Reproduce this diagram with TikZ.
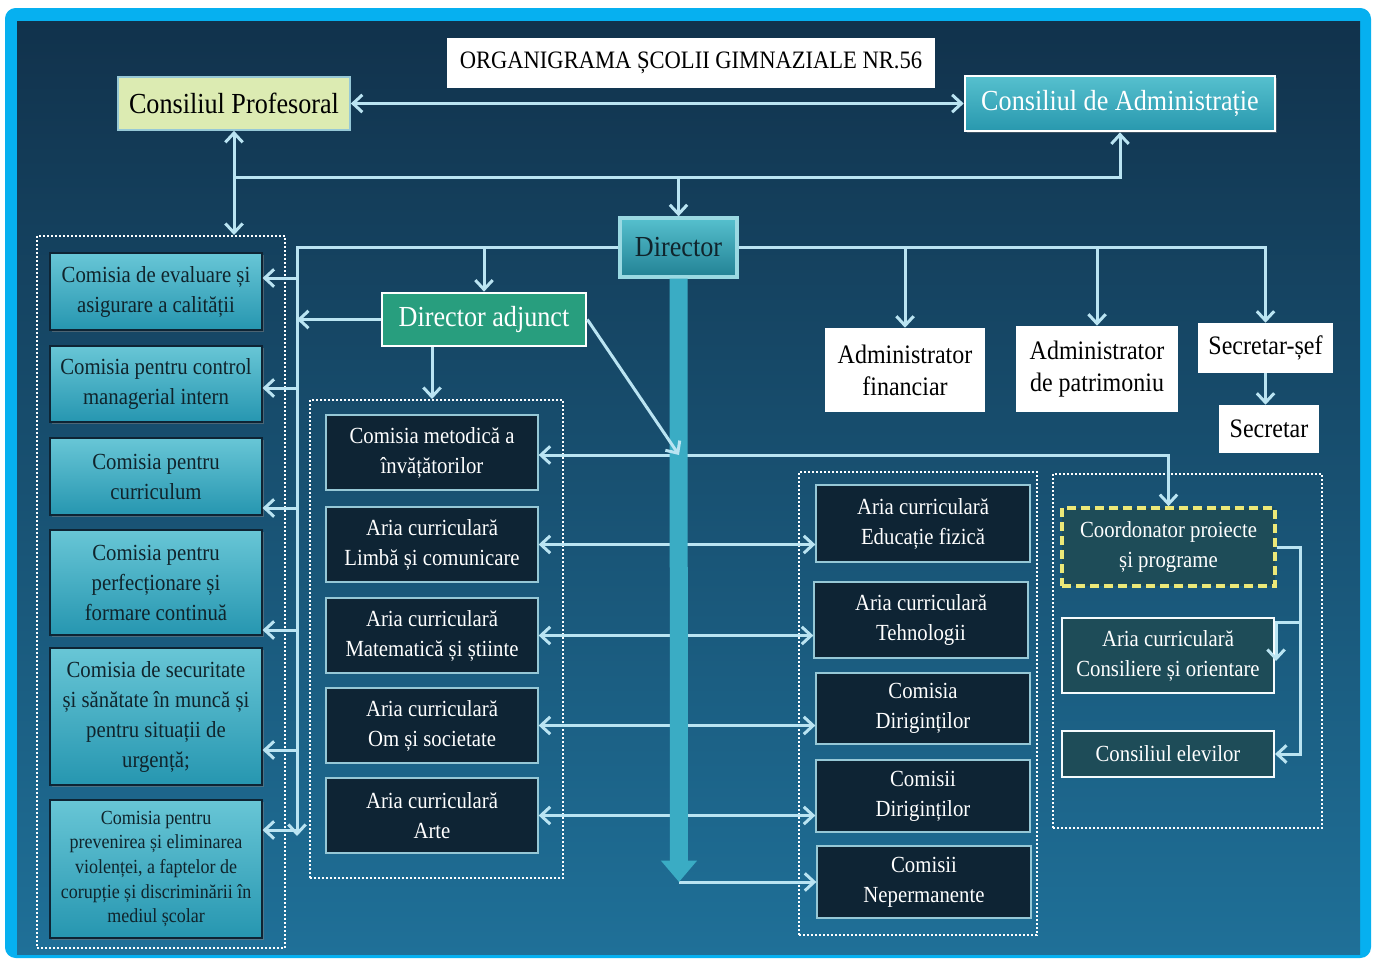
\documentclass[tikz,border=0pt]{standalone}
\usepackage{fontspec}
\setmainfont{Liberation Serif}[FakeStretch=0.9]
\usetikzlibrary{arrows.meta,shadows,calc}

\definecolor{bgtop}{RGB}{17,50,76}
\definecolor{bgbot}{RGB}{31,112,152}
\definecolor{rim}{RGB}{6,176,240}
\definecolor{lnk}{RGB}{186,228,242}
\definecolor{shaft}{RGB}{58,172,196}
\definecolor{comtop}{RGB}{104,198,214}
\definecolor{combot}{RGB}{38,150,176}
\definecolor{comtxt}{RGB}{16,36,44}
\definecolor{adjgreen}{RGB}{40,158,126}
\definecolor{profgreen}{RGB}{220,235,178}
\definecolor{admtop}{RGB}{86,192,206}
\definecolor{admbot}{RGB}{40,152,174}
\definecolor{ariadark}{RGB}{14,36,52}
\definecolor{ariaedge}{RGB}{150,200,214}
\definecolor{teamfill}{RGB}{30,76,88}
\definecolor{coordedge}{RGB}{236,232,120}

\newcommand{\bigtxt}{\fontsize{21.8}{26}\selectfont}
\newcommand{\midtxt}{\fontsize{17.3}{22.5}\selectfont}
\newcommand{\stafftxt}{\fontsize{20}{24}\selectfont}
\newcommand{\smalltxt}{\fontsize{15}{18.4}\selectfont}

\tikzset{
  boxsize/.style 2 args={minimum width=#1*0.75pt, minimum height=#2*0.75pt},
  base/.style={inner sep=0pt, align=center},
  titlebox/.style={base, fill=white, text=black, font=\fontsize{18.8}{23}\selectfont},
  profbox/.style={base, fill=profgreen, draw=ariaedge, line width=1.2pt, text=black, font=\bigtxt},
  admbox/.style={base, top color=admtop, bottom color=admbot, draw=white, line width=2pt,
    text=white, font=\bigtxt, drop shadow={shadow xshift=1.5pt, shadow yshift=-1.5pt, opacity=0.4}},
  dirbox/.style={base, top color=admtop, bottom color=admbot!85!black, draw=admtop!60!white,
    line width=2.5pt, text=comtxt, font=\bigtxt,
    drop shadow={shadow xshift=1.5pt, shadow yshift=-1.5pt, opacity=0.5}},
  adjbox/.style={base, fill=adjgreen, draw=white, line width=2pt, text=white, font=\bigtxt},
  combox/.style={base, top color=comtop, bottom color=combot, draw=ariadark, line width=0.8pt,
    text=comtxt, font=\midtxt, drop shadow={shadow xshift=1.5pt, shadow yshift=-1.5pt, opacity=0.5}},
  ariabox/.style={base, fill=ariadark, draw=ariaedge, line width=1pt, text=white, font=\midtxt},
  staffbox/.style={base, fill=white, text=black, font=\stafftxt},
  teambox/.style={base, fill=teamfill, draw=white!85!lnk, line width=1.5pt, text=white, font=\midtxt},
  grp/.style={base, draw=white, line width=1.5pt, dash pattern=on 1.5pt off 1.5pt},
  link/.style={draw=lnk, line width=2.25pt, >={Straight Barb[length=7pt,width=13pt]}},
}

\begin{document}
\begin{tikzpicture}[x=0.75pt,y=0.75pt,yscale=-1,xscale=1]
\useasboundingbox (0,0) rectangle (1373,960);

% background and frame
\fill[white] (0,0) rectangle (1373,960);
\fill[rim, rounded corners=8pt] (5,8) rectangle (1371,958);
\shade[top color=bgtop, bottom color=bgbot] (17,21) rectangle (1360,954);

% group frames
\node[grp, boxsize={248}{712}] (lframe) at (161,592) {};
\node[grp, boxsize={253}{478}] (mframe) at (436.5,639) {};
\node[grp, boxsize={238}{463}] (rframe) at (918,703.5) {};
\node[grp, boxsize={269}{354}] (rrframe) at (1187.5,651) {};

% top level
\node[titlebox, boxsize={488}{50}] (title) at (691,63) {ORGANIGRAMA ȘCOLII GIMNAZIALE NR.56};
\node[profbox, boxsize={232}{53}] (cp) at (234,103.5) {Consiliul Profesoral};
\node[admbox, boxsize={310}{55}] (ca) at (1120,103.5) {Consiliul de Administrație};
\node[dirbox, boxsize={117}{59}] (dir) at (678.5,247.5) {Director};
\node[adjbox, boxsize={204}{53}] (da) at (484,319.5) {Director adjunct};

% staff
\node[staffbox, boxsize={160}{84}] (af) at (905,370) {Administrator\\financiar};
\node[staffbox, boxsize={162}{86}] (ap) at (1097,369) {Administrator\\de patrimoniu};
\node[staffbox, boxsize={135}{50}] (ss) at (1265.5,348) {Secretar-șef};
\node[staffbox, boxsize={100}{48}] (sec) at (1269,429) {Secretar};

% commissions (left)
\node[combox, boxsize={212}{77}] (l1) at (156,291.5) {Comisia de evaluare și\\asigurare a calității};
\node[combox, boxsize={212}{76}] (l2) at (156,384) {Comisia pentru control\\managerial intern};
\node[combox, boxsize={212}{77}] (l3) at (156,476.5) {Comisia pentru\\curriculum};
\node[combox, boxsize={212}{105}] (l4) at (156,582.5) {Comisia pentru\\perfecționare și\\formare continuă};
\node[combox, boxsize={212}{137}] (l5) at (156,716.5) {Comisia de securitate\\și sănătate în muncă și\\pentru situații de\\urgență;};
\node[combox, boxsize={212}{138}, font=\smalltxt] (l6) at (156,869) {Comisia pentru\\prevenirea și eliminarea\\violenței, a faptelor de\\corupție și discriminării în\\mediul școlar};

% curricular areas (middle)
\node[ariabox, boxsize={212}{75}] (m1) at (432,452.5) {Comisia metodică a\\învățătorilor};
\node[ariabox, boxsize={212}{75}] (m2) at (432,544.5) {Aria curriculară\\Limbă și comunicare};
\node[ariabox, boxsize={212}{75}] (m3) at (432,635.5) {Aria curriculară\\Matematică și știinte};
\node[ariabox, boxsize={212}{75}] (m4) at (432,725.5) {Aria curriculară\\Om și societate};
\node[ariabox, boxsize={212}{75}] (m5) at (432,815.5) {Aria curriculară\\Arte};

% curricular areas (right)
\node[ariabox, boxsize={214}{77}] (r1) at (923,523.5) {Aria curriculară\\Educație fizică};
\node[ariabox, boxsize={214}{76}] (r2) at (921,620) {Aria curriculară\\Tehnologii};
\node[ariabox, boxsize={214}{71}] (r3) at (923,708.5) {Comisia\\Diriginților};
\node[ariabox, boxsize={214}{72}] (r4) at (923,796) {Comisii\\Diriginților};
\node[ariabox, boxsize={214}{72}] (r5) at (924,882) {Comisii\\Nepermanente};

% projects and pupils
\node[teambox, boxsize={213}{78}, draw=coordedge, line width=2.8pt, dash pattern=on 7pt off 3.5pt] (coord) at (1168.5,547) {Coordonator proiecte\\și programe};
\node[teambox, boxsize={212}{75}] (aco) at (1168,655.5) {Aria curriculară\\Consiliere și orientare};
\node[teambox, boxsize={212}{46}] (cel) at (1168,754) {Consiliul elevilor};

\coordinate (hub) at (679,455);
\coordinate (bigtip) at (679,882);
\coordinate (lbusend) at (297,836);

% top connectors
\draw[link,<->] (cp.east) -- (ca.west);
\draw[link,<->] (cp.south) -- (cp.south |- lframe.north);
\draw[link,->] (cp.south |- 0,177) -| (ca.south);
\draw[link,->] (dir.north |- 0,177) -- (dir.north);

% director bus
\draw[link,->] (dir.west) -| (lbusend);
\draw[link,->] (dir.east) -| (ss.north);
\draw[link,->] (dir.east -| af.north) -- (af.north);
\draw[link,->] (dir.east -| ap.north) -- (ap.north);
\draw[link,->] (dir.west -| da.north) -- (da.north);
\draw[link,->] (ss.south) -- (ss.south |- sec.north);
\foreach \n/\y in {l1/278,l2/388,l3/508,l4/630,l5/750,l6/830}
  \draw[link,->] (297,\y) -- (\n.east |- 0,\y);

% deputy director
\draw[link,->] (da.west) -- (da.west -| lbusend);
\draw[link,->] (da.south -| m1.north) -- (mframe.north -| m1.north);

% rows through the main arrow
\draw[link,->] (hub) -- (hub -| m1.east);
\draw[link,->] (hub) -| (coord.north);
\foreach \a/\b in {m2/r1,m3/r2,m4/r3,m5/r4}
  \draw[link,<->] (\a.east) -- (\a.east -| \b.west);
\draw[link,->] (bigtip) -- (bigtip -| r5.west);

% main arrow
\draw[shaft, line width=13.5pt, -{Triangle[length=16pt,width=26pt]}] (dir.south) -- (bigtip);
\draw[link,->] (da.east) -- (hub);

% projects links
\draw[link,->] (coord.east) -- ++(24,0) |- (cel.east);
\draw[link,->] ($(aco.north east)+(25,5)$) -- ($(aco.north east)+(1,5)$) -- ($(aco.north east)+(1,44)$);

\end{tikzpicture}
\end{document}
